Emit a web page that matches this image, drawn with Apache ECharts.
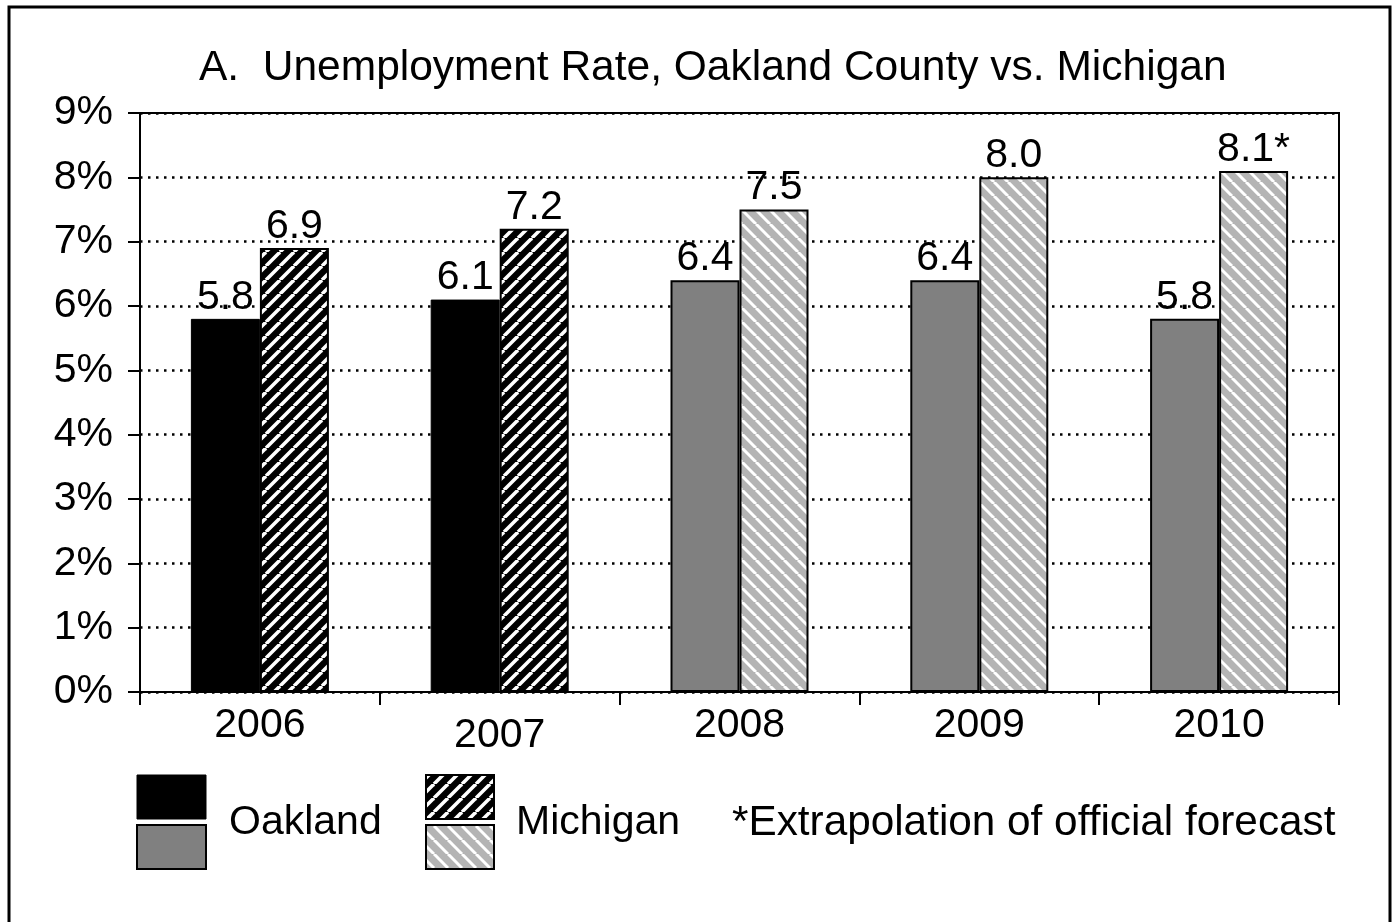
<!DOCTYPE html>
<html>
<head>
<meta charset="utf-8">
<script src="https://cdn.jsdelivr.net/npm/echarts@6/dist/echarts.min.js"></script>
<style>
  html, body { margin: 0; padding: 0; background: #fff; }
  #main { width: 1393px; height: 922px; }
</style>
</head>
<body>
<div id="main"></div>
<script>
// data
const years = ['2006', '2007', '2008', '2009', '2010'];
const oakland = [5.8, 6.1, 6.4, 6.4, 5.8];
const michigan = [6.9, 7.2, 7.5, 8.0, 8.1];
const michiganLabels = ['6.9', '7.2', '7.5', '8.0', '8.1*'];
const yTicks = [0, 1, 2, 3, 4, 5, 6, 7, 8, 9];

const FONT = 'Liberation Sans, Arial, sans-serif';
const FS = 41;

// diagonal stripe tile, dir 1 = "/" , -1 = "\"
function stripes(bg, fg, lw, dir) {
  let s = 14;
  let c = document.createElement('canvas');
  c.width = s; c.height = s;
  let ctx = c.getContext('2d');
  ctx.fillStyle = bg;
  ctx.fillRect(0, 0, s, s);
  ctx.strokeStyle = fg;
  ctx.lineWidth = lw;
  for (let k = -1; k <= 1; k++) {
    ctx.beginPath();
    if (dir > 0) {
      ctx.moveTo(k * s, s);
      ctx.lineTo(k * s + s, 0);
    } else {
      ctx.moveTo(k * s, 0);
      ctx.lineTo(k * s + s, s);
    }
    ctx.stroke();
  }
  return { image: c, repeat: 'repeat' };
}

const darkHatch = stripes('#000', '#fff', 3.5, 1);
const greyHatch = stripes('#b4b4b4', '#fff', 3, -1);

// first two years drawn dark, forecasts grey
const oakData = oakland.map((v, i) => ({
  value: v,
  itemStyle: i < 2
    ? { color: '#000', borderColor: '#000', borderWidth: 1 }
    : { color: '#808080', borderColor: '#000', borderWidth: 2 }
}));
const micData = michigan.map((v, i) => ({
  value: v,
  itemStyle: { color: i < 2 ? darkHatch : greyHatch, borderColor: '#000', borderWidth: 2 }
}));

const chart = echarts.init(document.getElementById('main'), null, { renderer: 'canvas' });

const labelStyle = {
  show: true,
  position: 'top',
  distance: 1,
  color: '#000',
  fontSize: FS,
  fontFamily: FONT
};

const option = {
  animation: false,
  backgroundColor: '#fff',
  textStyle: { fontFamily: FONT },
  grid: {
    left: 140, top: 113, right: 54, bottom: 230,
    show: true, borderColor: '#000', borderWidth: 2, backgroundColor: 'transparent'
  },
  xAxis: {
    type: 'category',
    data: years.map((y, i) => i == 1 ? { value: y, textStyle: { padding: [10, 0, 0, 0] } } : y),
    axisLine: { lineStyle: { color: '#000', width: 2 } },
    axisTick: { show: true, length: 13, alignWithLabel: false, lineStyle: { color: '#000', width: 2 } },
    axisLabel: { color: '#000', fontSize: FS, fontFamily: FONT, margin: 13 },
    splitLine: { show: false }
  },
  yAxis: {
    type: 'value',
    min: yTicks[0],
    max: yTicks[yTicks.length - 1],
    interval: 1,
    axisLine: { show: true, lineStyle: { color: '#000', width: 2 } },
    axisTick: { show: true, length: 12, lineStyle: { color: '#000', width: 2 } },
    axisLabel: { color: '#000', fontSize: FS, fontFamily: FONT, margin: 27, formatter: '{value}%' },
    splitLine: { show: true, lineStyle: { color: '#000', width: 2.5, type: [2.5, 5.5] } }
  },
  title: {
    text: 'A.  Unemployment Rate, Oakland County vs. Michigan',
    left: 194,
    top: 42,
    textStyle: { color: '#000', fontSize: 42.5, fontWeight: 'normal', fontFamily: FONT }
  },
  series: [
    {
      name: 'Oakland',
      type: 'bar',
      barWidth: 69,
      barGap: '0%',
      data: oakData,
      label: labelStyle
    },
    {
      name: 'Michigan',
      type: 'bar',
      barWidth: 69,
      barGap: '0%',
      data: micData,
      label: Object.assign({}, labelStyle, {
        formatter: p => michiganLabels[p.dataIndex]
      })
    }
  ],
  graphic: [
    { type: 'rect', shape: { x: 9, y: 7, width: 1381, height: 1000 },
      style: { fill: null, stroke: '#000', lineWidth: 3 }, silent: true },
    // legend swatches
    { type: 'rect', shape: { x: 137, y: 775, width: 69, height: 44 }, style: { fill: '#000', stroke: '#000', lineWidth: 1 } },
    { type: 'rect', shape: { x: 137, y: 825, width: 69, height: 44 }, style: { fill: '#808080', stroke: '#000', lineWidth: 2 } },
    { type: 'rect', shape: { x: 426, y: 775, width: 68, height: 44 }, style: { fill: darkHatch, stroke: '#000', lineWidth: 2 } },
    { type: 'rect', shape: { x: 426, y: 825, width: 68, height: 44 }, style: { fill: greyHatch, stroke: '#000', lineWidth: 2 } },
    { type: 'text', x: 229, y: 823, style: { text: 'Oakland', fill: '#000', font: FS + 'px ' + FONT, textVerticalAlign: 'middle' } },
    { type: 'text', x: 516, y: 823, style: { text: 'Michigan', fill: '#000', font: FS + 'px ' + FONT, textVerticalAlign: 'middle' } },
    { type: 'text', x: 732, y: 823, style: { text: '*Extrapolation of official forecast', fill: '#000', font: '42.3px ' + FONT, textVerticalAlign: 'middle' } }
  ]
};

chart.setOption(option);
</script>
</body>
</html>
